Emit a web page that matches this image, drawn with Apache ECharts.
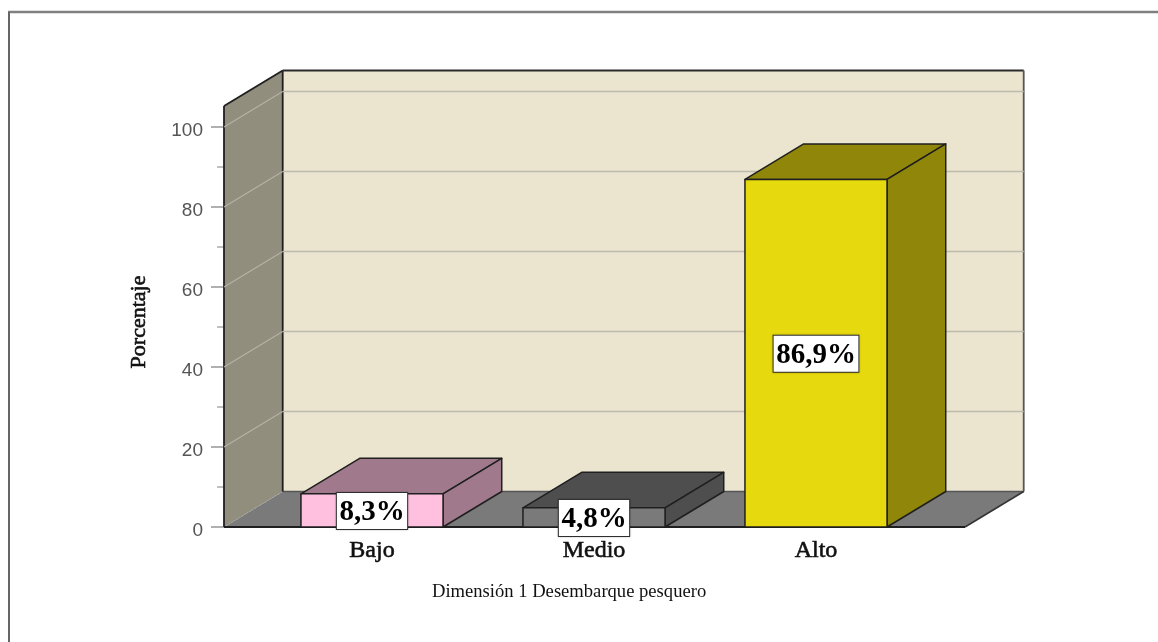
<!DOCTYPE html>
<html>
<head>
<meta charset="utf-8">
<style>html,body{margin:0;padding:0;background:#fff}#c{width:1158px;height:642px}</style>
<script src="https://cdn.jsdelivr.net/npm/echarts@6/dist/echarts.min.js"></script>
</head>
<body>
<div id="c"></div>
<script>
const categories = ['Bajo', 'Medio', 'Alto'];
const percentages = [8.3, 4.8, 86.9];
const frontColors = ['#ffc0e0', '#7a7a7a', '#e6d90d'];
const sideColors = ['#a07a8c', '#4e4e4e', '#8f860a'];
const yTicks = [20, 40, 60, 80, 100];
const wallTopValue = 105.25;
const axisTitle = 'Porcentaje';
const xTitle = 'Dimensión 1 Desembarque pesquero';

const DX = 58.7, DY = -35.5, EDGE = '#1f1f1f';
const serif = '"Liberation Serif","Times New Roman",serif';
const chart = echarts.init(document.getElementById('c'), null, {renderer: 'canvas'});

function poly(points, fill, stroke, width) {
  return {type: 'polygon', shape: {points}, style: {fill, stroke: stroke === undefined ? EDGE : stroke, lineWidth: width || 1.5, lineJoin: 'round'}};
}
function seg(a, b, stroke, width, dash) {
  return {type: 'line', shape: {x1: a[0], y1: a[1], x2: b[0], y2: b[1]}, style: {stroke, lineWidth: width, lineDash: dash || null}};
}
function wallsItem(params, api) {
  const rect = params.coordSys;
  const L = rect.x - 37, R = rect.x + rect.width + 38;
  const y0 = api.coord([0, 0])[1], yT = api.coord([0, wallTopValue])[1];
  return {type: 'group', children: [
    poly([[L + DX, yT + DY], [R + DX, yT + DY], [R + DX, y0 + DY], [L + DX, y0 + DY]], '#ebe5d0', null),
    poly([[L, yT], [L + DX, yT + DY], [L + DX, y0 + DY], [L, y0]], '#918e7d', null),
    poly([[L, y0], [L + DX, y0 + DY], [R + DX, y0 + DY], [R, y0]], '#7a7a7a', null),
    seg([L + DX, yT + DY], [R + DX, yT + DY], '#2a2a2a', 1.8),
    seg([R + DX, yT + DY], [R + DX, y0 + DY], '#555', 1.8),
    seg([L + DX, y0 + DY], [R + DX, y0 + DY], '#555', 1.5),
    seg([L, yT], [L + DX, yT + DY], EDGE, 1.8),
    seg([L, yT], [L, y0], EDGE, 1.8),
    seg([L + DX, yT + DY], [L + DX, y0 + DY], EDGE, 1.8),
    seg([L, y0], [L + DX, y0 + DY], '#aaa', 1.2, [1, 2]),
    seg([R, y0], [R + DX, y0 + DY], '#333', 1.5),
    seg([L, y0], [R, y0], EDGE, 2)
  ]};
}
function gridItem(params, api) {
  const rect = params.coordSys;
  const L = rect.x - 37, R = rect.x + rect.width + 38;
  const y = api.coord([0, api.value(1)])[1];
  return {type: 'group', children: [
    seg([L, y], [L + DX, y + DY], '#b4b2a8', 1.2),
    seg([L + DX, y + DY], [R + DX, y + DY], '#bdbaae', 1.5)
  ]};
}
function barItem(params, api) {
  const i = params.dataIndex;
  const c = api.coord([api.value(0), 0]), t = api.coord([api.value(0), api.value(1)]);
  const w = api.size([1, 0])[0] * 0.64;
  const l = c[0] - w / 2, r = c[0] + w / 2, b = c[1], y = t[1];
  return {type: 'group', children: [
    poly([[l, y], [l + DX, y + DY], [r + DX, y + DY], [r, y]], sideColors[i]),
    poly([[r, y], [r + DX, y + DY], [r + DX, b + DY], [r, b]], sideColors[i]),
    poly([[l, y], [r, y], [r, b], [l, b]], frontColors[i])
  ]};
}
function labelItem(params, api) {
  const c = api.coord([api.value(0), api.value(1) / 2]);
  const text = api.value(1).toFixed(1).replace('.', ',') + '%';
  const font = 'bold 29px ' + serif;
  return {type: 'group', children: [
    {type: 'text', x: c[0], y: c[1] + 0.5, style: {
      text, font, fill: 'rgba(0,0,0,0)', align: 'center', verticalAlign: 'middle',
      backgroundColor: '#fff', borderColor: '#333', borderWidth: 1, padding: [7, 2.5, 0, 2.5],
      shadowBlur: 2, shadowColor: 'rgba(0,0,0,0.25)'
    }},
    {type: 'text', x: c[0], y: c[1] + 2.5, style: {text, font, fill: '#000', align: 'center', verticalAlign: 'middle'}}
  ]};
}
const barData = percentages.map((v, i) => [i, v]);

chart.setOption({
  animation: false,
  backgroundColor: '#fff',
  grid: {left: 261, top: 127, width: 666, height: 400, containLabel: false},
  title: {text: xTitle, left: 432, top: 583, textStyle: {fontFamily: serif, fontSize: 18.6, fontWeight: 'normal', color: '#111'}, padding: 0},
  xAxis: {
    type: 'category', data: categories,
    axisLine: {show: false}, axisTick: {show: false},
    axisLabel: {fontFamily: serif, fontSize: 24, color: '#111', textBorderColor: '#111', textBorderWidth: 0.6, margin: 12}
  },
  yAxis: {
    type: 'value', min: 0, max: 100, interval: 20, offset: 37,
    name: axisTitle, nameLocation: 'middle', nameGap: 74, nameRotate: 90,
    nameTextStyle: {fontFamily: serif, fontSize: 22, color: '#111', textBorderColor: '#111', textBorderWidth: 0.6, padding: [0, 0, 0, 10]},
    axisLine: {show: false},
    axisTick: {show: true, length: 13, lineStyle: {color: '#b0b0b0', width: 2}},
    minorTick: {show: true, splitNumber: 2, length: 7, lineStyle: {color: '#aaa', width: 1.5}},
    splitLine: {show: false},
    axisLabel: {fontFamily: '"Liberation Sans",Arial,sans-serif', fontSize: 19, color: '#555', margin: 21, verticalAlign: 'top', lineHeight: 8}
  },
  graphic: [
    {type: 'line', silent: true, shape: {x1: 8, y1: 12, x2: 1158, y2: 12}, style: {stroke: '#808080', lineWidth: 2.5}},
    {type: 'line', silent: true, shape: {x1: 9, y1: 12, x2: 9, y2: 642}, style: {stroke: '#666', lineWidth: 2}}
  ],
  series: [
    {type: 'custom', name: 'walls', data: [[0, 0]], renderItem: wallsItem, silent: true, z: 1},
    {type: 'custom', name: 'grid', data: yTicks.map(v => [0, v]), renderItem: gridItem, silent: true, z: 2},
    {type: 'custom', name: 'bars', data: barData, renderItem: barItem, silent: true, z: 3},
    {type: 'custom', name: 'labels', data: barData, renderItem: labelItem, silent: true, z: 4}
  ]
});
</script>
</body>
</html>
